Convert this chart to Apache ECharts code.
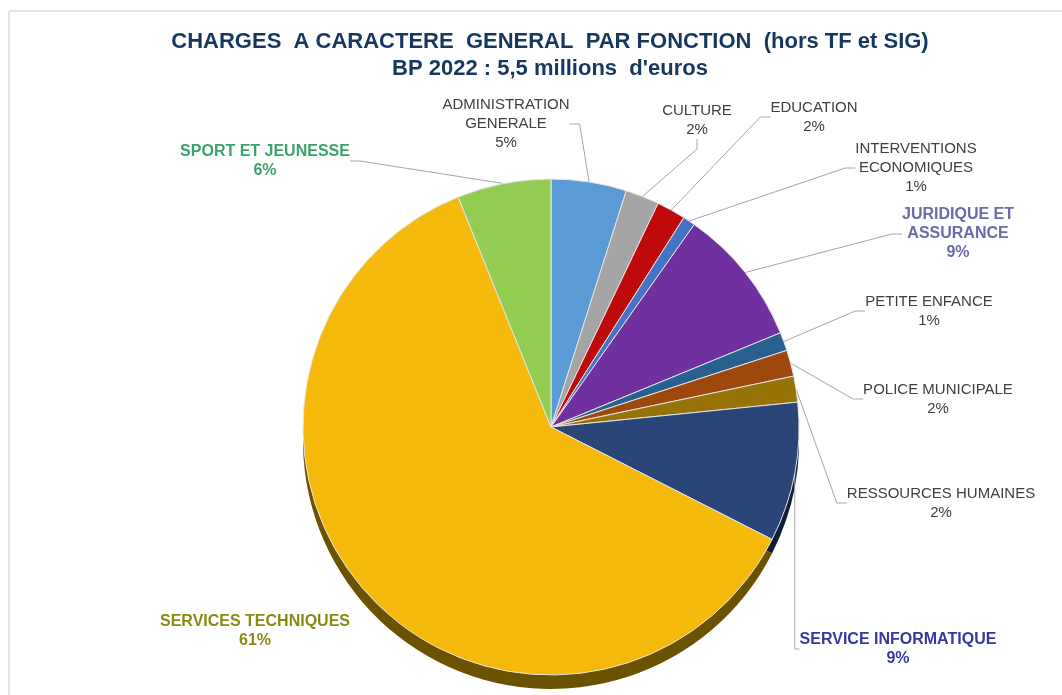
<!DOCTYPE html>
<html>
<head>
<meta charset="utf-8">
<script src="https://cdn.jsdelivr.net/npm/echarts@6/dist/echarts.min.js"></script>
<style>
  html, body { margin: 0; padding: 0; background: #fff; }
  #chart { width: 1062px; height: 695px; }
</style>
</head>
<body>
<div id="chart"></div>
<script>
// budget lines, in k€ (total 5,5 M€), clockwise from 12 o'clock
var categories = [
  "ADMINISTRATION\nGENERALE",
  "CULTURE",
  "EDUCATION",
  "INTERVENTIONS\nECONOMIQUES",
  "JURIDIQUE ET\nASSURANCE",
  "PETITE ENFANCE",
  "POLICE MUNICIPALE",
  "RESSOURCES HUMAINES",
  "SERVICE INFORMATIQUE",
  "SERVICES TECHNIQUES",
  "SPORT ET JEUNESSE"
];
var values = [270, 121, 104, 44, 495, 66, 94, 93, 500, 3377, 336];

var sliceColors = ["#5B9BD5", "#A5A5A5", "#BE0A0A", "#4472C4", "#7030A0", "#28618F",
  "#9E480E", "#967307", "#2A4577", "#F4B90A", "#92CC52"];
var rimColors = ["#2F5F8A", "#5E5E5E", "#6E0505", "#233F73", "#3D1A58", "#143551",
  "#582707", "#564204", "#111E38", "#6B5200", "#4F7A26"];

// label look + where each label sits (x, y = centre of the text block)
var labelStyles = {
  4: { color: "#6A6AAA", fontWeight: "bold", fontSize: 16 },
  8: { color: "#3838A0", fontWeight: "bold", fontSize: 16 },
  9: { color: "#8A8A12", fontWeight: "bold", fontSize: 16 },
  10: { color: "#3AA36A", fontWeight: "bold", fontSize: 16 }
};
var labelSpots = {
  0: [506, 124], 1: [697, 120], 2: [814, 117], 3: [916, 168], 4: [958, 234],
  5: [929, 311], 6: [938, 399], 7: [941, 503], 8: [898, 649], 9: [255, 631], 10: [265, 161]
};

var total = values.reduce(function (a, b) { return a + b; }, 0);

var mainData = [];
var rimData = [];
for (var i = 0; i < categories.length; i++) {
  var item = {
    name: categories[i],
    value: values[i],
    itemStyle: { color: sliceColors[i] }
  };
  if (labelStyles[i]) item.label = labelStyles[i];
  if (i === 9) item.labelLine = { show: false };
  mainData.push(item);
  rimData.push({ name: categories[i], value: values[i], itemStyle: { color: rimColors[i] } });
}

var myChart = echarts.init(document.getElementById("chart"));
var option = {
  animation: false,
  backgroundColor: "#fff",
  title: {
    text: "CHARGES  A CARACTERE  GENERAL  PAR FONCTION  (hors TF et SIG)\nBP 2022 : 5,5 millions  d'euros",
    left: 545,
    top: 23,
    textAlign: "center",
    textStyle: {
      fontFamily: "Liberation Sans, Arial",
      fontWeight: "bold",
      fontSize: 22,
      color: "#17375E",
      lineHeight: 27
    }
  },
  graphic: [
    { type: "line", shape: { x1: 9, y1: 11, x2: 1062, y2: 11 }, style: { stroke: "#e4e4e4", lineWidth: 2 }, silent: true },
    { type: "line", shape: { x1: 9, y1: 11, x2: 9, y2: 695 }, style: { stroke: "#e4e4e4", lineWidth: 2 }, silent: true }
  ],
  series: [
    {
      // the side of the 3D disc
      type: "pie",
      silent: true,
      center: [551, 441],
      radius: 248,
      startAngle: 90,
      clockwise: true,
      label: { show: false },
      labelLine: { show: false },
      itemStyle: { borderWidth: 0 },
      data: rimData,
      z: 1
    },
    {
      type: "pie",
      center: [551, 427],
      radius: 248,
      startAngle: 90,
      clockwise: true,
      z: 2,
      itemStyle: { borderColor: "#e6e6e6", borderWidth: 1 },
      label: {
        show: true,
        position: "outside",
        fontFamily: "Liberation Sans, Arial",
        fontSize: 15,
        lineHeight: 19,
        color: "#404040",
        align: "center",
        formatter: function (p) {
          return p.name + "\n" + Math.round(p.value / total * 100) + "%";
        }
      },
      labelLine: {
        show: true,
        length: 20,
        length2: 10,
        lineStyle: { color: "#A6A6A6", width: 1 }
      },
      labelLayout: function (params) {
        var spot = labelSpots[params.dataIndex];
        return {
          x: spot[0],
          y: spot[1],
          align: "center",
          verticalAlign: "middle"
        };
      },
      data: mainData
    }
  ]
};
option && myChart.setOption(option);
</script>
</body>
</html>
